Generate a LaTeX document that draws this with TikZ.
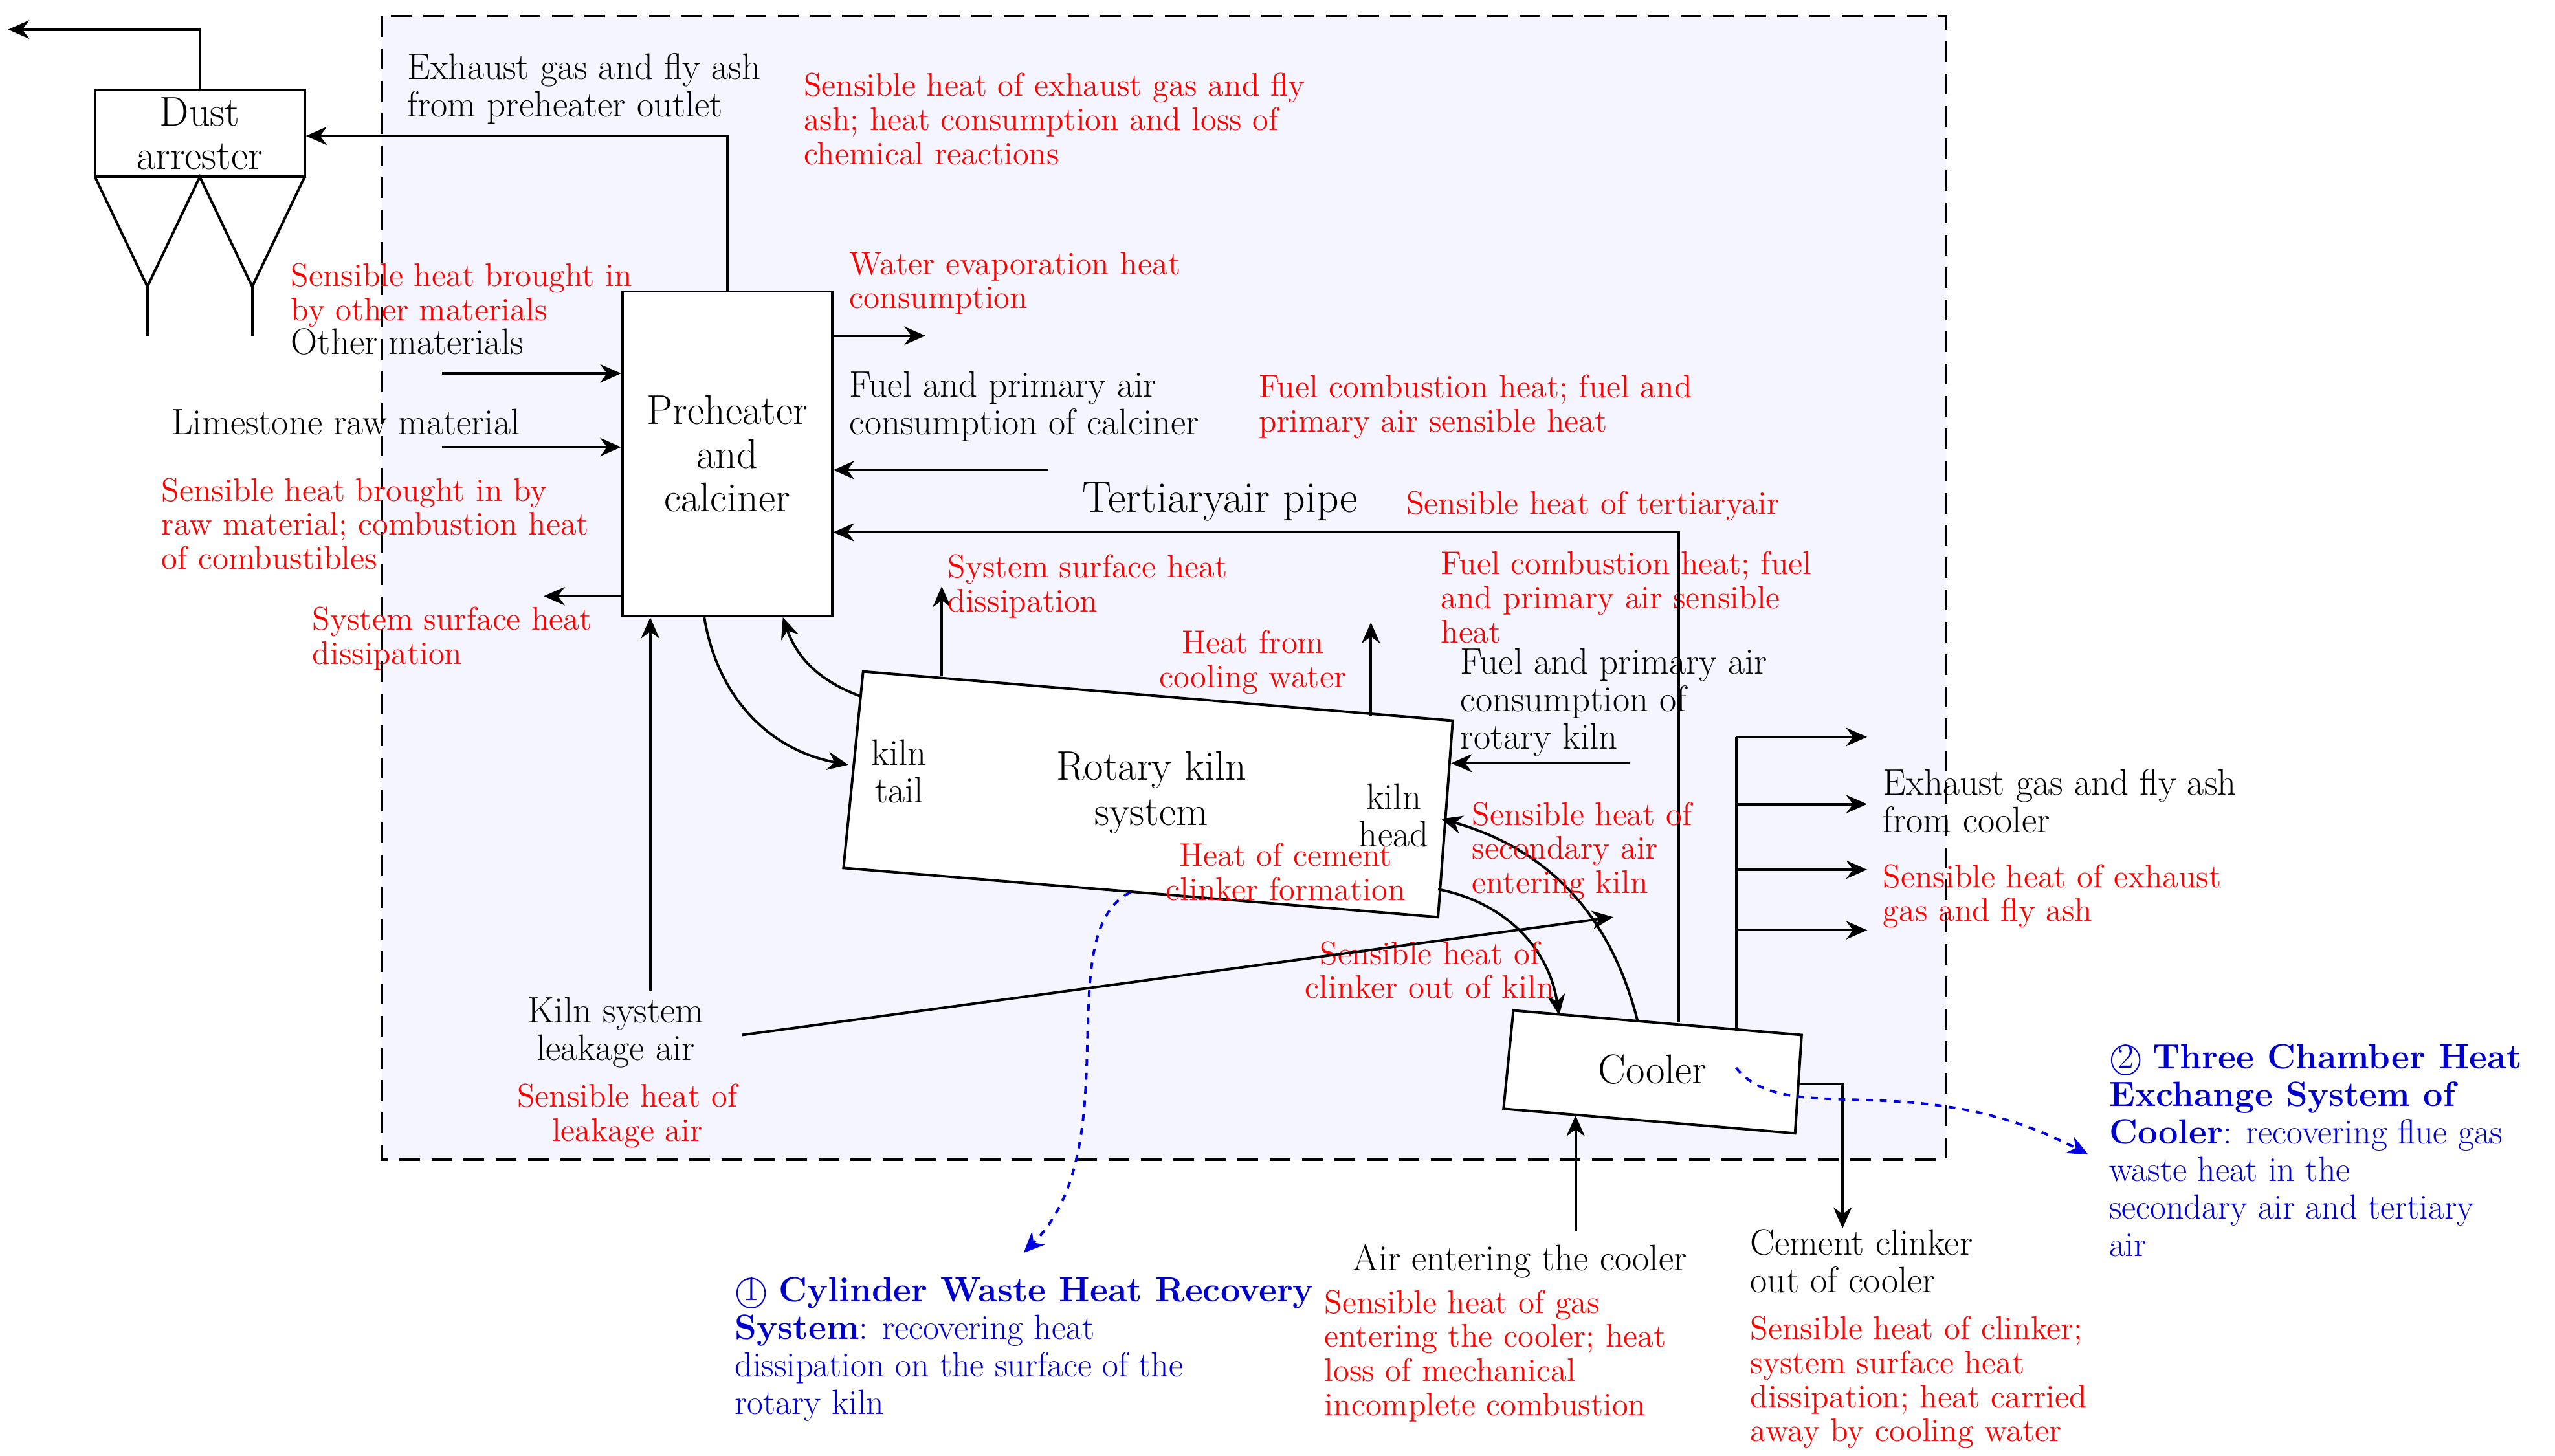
\documentclass[tikz,border=0pt]{standalone}
\usetikzlibrary{arrows.meta,positioning,calc}
\begin{document}
\begin{tikzpicture}[
  x=0.025cm, y=-0.025cm,
  >={Stealth[width=2.8mm,length=3.2mm]},
  line width=1.1pt,
  blk/.style={font=\fontsize{16}{16.3}\selectfont, align=left, inner sep=0pt, anchor=north west},
  red/.style={blk, text=red, font=\fontsize{14.2}{14.8}\selectfont},
  blue/.style={blk, text=blue!80!black, font=\fontsize{15.2}{16.3}\selectfont},
  box/.style={draw, fill=white, font=\fontsize{18}{19}\selectfont, align=center},
  arrow/.style={->},
  dasharrow/.style={->, dashed, blue!90!black},
]
  \useasboundingbox (0,0) rectangle (1560,889);

  % System boundary
  \draw[dash pattern=on 9pt off 5pt, fill=blue!4] (233,10) rectangle (1188,708);

  % Dust arrester
  \node[box, minimum width=128*0.025cm, minimum height=53*0.025cm, inner sep=0pt] (dust) at (122,81.5) {Dust\\arrester};
  \draw (58,108) -- (90,175) -- (122,108) -- (154,175) -- (186,108);
  \draw (90,175) -- (90,205) (154,175) -- (154,205);
  \coordinate (dustout) at (5,18);
  \draw[arrow] (dust.north) |- (dustout);

  % Preheater and calciner
  \node[box, minimum width=128*0.025cm, minimum height=198*0.025cm, inner sep=0pt] (pre) at (444,277) {Preheater\\and\\calciner};
  \draw[arrow] (pre.north) |- (dust.east |- 0,83);
  \node[blk] (exh) at (248,32) {Exhaust gas and fly ash\\from preheater outlet};
  \node[red] (exhr) at (490,44) {Sensible heat of exhaust gas and fly\\ash; heat consumption and loss of\\chemical reactions};

  % Inputs to preheater
  \node[red] (othr) at (177,160) {Sensible heat brought in\\by other materials};
  \node[blk] (oth) at (177,200) {Other materials};
  \coordinate (othin) at (270,228);
  \draw[arrow] (othin) -- (pre.west |- othin);
  \node[blk] (lime) at (104,249) {Limestone raw material};
  \coordinate (limein) at (270,273);
  \draw[arrow] (limein) -- (pre.west |- limein);
  \node[red] (limer) at (98,291) {Sensible heat brought in by\\raw material; combustion heat\\of combustibles};
  \coordinate (presurf) at (332,364);
  \draw[arrow] (pre.west |- presurf) -- (presurf);
  \node[red] (presurfr) at (190,370) {System surface heat\\dissipation};

  % Outputs / inputs of calciner
  \coordinate (water) at (565,205);
  \draw[arrow] (pre.east |- water) -- (water);
  \node[red] (waterr) at (518,153) {Water evaporation heat\\consumption};
  \node[blk] (fuelc) at (518,226) {Fuel and primary air\\consumption of calciner};
  \coordinate (fuelcin) at (640,287);
  \draw[arrow] (fuelcin) -- (pre.east |- fuelcin);
  \node[red] (fuelcr) at (768,228) {Fuel combustion heat; fuel and\\primary air sensible heat};

  % Rotary kiln
  \coordinate (k1) at (527,410); \coordinate (k2) at (887,440);
  \coordinate (k3) at (878,560); \coordinate (k4) at (515,530);
  \draw[fill=white] (k1) -- (k2) -- (k3) -- (k4) -- cycle;
  \node[font=\fontsize{18}{19.5}\selectfont, align=center] (kiln) at (703,484) {Rotary kiln\\system};
  \node[blk, align=center, anchor=center] (tail) at (549,471) {kiln\\tail};
  \node[blk, align=center, anchor=center] (head) at (851,498) {kiln\\head};
  \draw[arrow] (430,377) to[bend right=35] (518,467);
  \draw[arrow] (525,425) to[bend left=25] (478,377);
  \coordinate (ksurf) at (575,358);
  \draw[arrow] (575,413) -- (ksurf);
  \node[red] (ksurfr) at (578,338) {System surface heat\\dissipation};
  \coordinate (kwater) at (837,380);
  \draw[arrow] (837,437) -- (kwater);
  \node[red, align=center, anchor=north] (kwaterr) at (765,384) {Heat from\\cooling water};
  \node[red] (fuelkr) at (879,336) {Fuel combustion heat; fuel\\and primary air sensible\\heat};
  \node[blk] (fuelk) at (891,395) {Fuel and primary air\\consumption of\\rotary kiln};
  \coordinate (fuelkin) at (995,466);
  \draw[arrow] (fuelkin) -- (886,466);
  \node[red, align=center, anchor=north] (clinf) at (785,514) {Heat of cement\\clinker formation};

  % Tertiary air pipe
  \node[blk, font=\fontsize{19}{20}\selectfont] (tert) at (660,294) {Tertiaryair pipe};
  \node[red] (tertr) at (858,299) {Sensible heat of tertiaryair};

  % Cooler
  \coordinate (c1) at (924,617); \coordinate (c2) at (1100,632);
  \coordinate (c3) at (1096,692); \coordinate (c4) at (918,677);
  \draw[fill=white] (c1) -- (c2) -- (c3) -- (c4) -- cycle;
  \node[font=\fontsize{18}{19}\selectfont] (cool) at (1009,653) {Cooler};
  \draw[arrow] (1025,624) |- (pre.east |- 0,325);
  \draw[arrow] (1000,624) to[bend right=30] (880,500);
  \node[red] (secr) at (898,489) {Sensible heat of\\secondary air\\entering kiln};
  \draw[arrow] (878,543) to[bend left=35] (952,620);
  \node[red, align=center, anchor=north] (clkr) at (873,574) {Sensible heat of\\clinker out of kiln};

  % Leakage air
  \node[blk, align=center, anchor=north] (leak) at (376,608) {Kiln system\\leakage air};
  \draw[arrow] (453,632) -- (985,560);
  \draw[arrow] (397,605) -- (397,377);
  \node[red, align=center, anchor=north] (leakr) at (383,661) {Sensible heat of\\leakage air};

  % Cooler inputs and outputs
  \coordinate (airin) at (962,752);
  \draw[arrow] (airin) -- (962,681);
  \node[blk, anchor=north] (air) at (928,759) {Air entering the cooler};
  \node[red] (airr) at (808,787) {Sensible heat of gas\\entering the cooler; heat\\loss of mechanical\\incomplete combustion};
  \coordinate (clkout) at (1125,750);
  \draw[arrow] (1098,662) -| (clkout);
  \node[blk] (clk) at (1068,750) {Cement clinker\\out of cooler};
  \node[red] (clkor) at (1068,803) {Sensible heat of clinker;\\system surface heat\\dissipation; heat carried\\away by cooling water};
  \draw (1060,630) -- (1060,450);
  \foreach \yy in {450,491,531,568}
    \draw[arrow] (1060,\yy) -- (1140,\yy);
  \node[blk] (cexh) at (1149,469) {Exhaust gas and fly ash\\from cooler};
  \node[red] (cexhr) at (1149,527) {Sensible heat of exhaust\\gas and fly ash};

  % Waste heat recovery
  \draw[dasharrow] (690,545) .. controls (640,570) and (690,700) .. (625,765);
  \draw[dasharrow] (1060,652) .. controls (1090,690) and (1170,650) .. (1275,705);
  \node[blue] (cyl) at (448,779) {\textcircled{1} \textbf{Cylinder Waste Heat Recovery}\\\textbf{System}: recovering heat\\dissipation on the surface of the\\rotary kiln};
  \node[blue] (three) at (1287,637) {\textcircled{2} \textbf{Three Chamber Heat}\\\textbf{Exchange System of}\\\textbf{Cooler}: recovering flue gas\\waste heat in the\\secondary air and tertiary\\air};
\end{tikzpicture}
\end{document}
